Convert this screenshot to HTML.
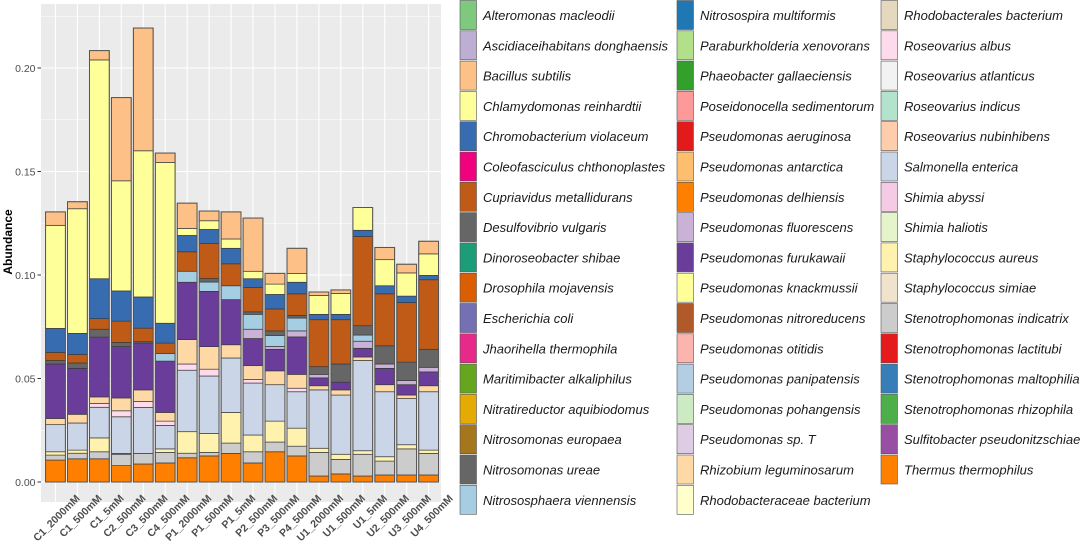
<!DOCTYPE html>
<html><head><meta charset="utf-8">
<style>
html,body{margin:0;padding:0;background:#fff;}
svg{display:block;font-family:"Liberation Sans",Arial,sans-serif;}
</style></head>
<body>
<svg id="chart" width="1080" height="545" viewBox="0 0 1080 545" xmlns="http://www.w3.org/2000/svg">
<rect x="41" y="4" width="400" height="498" fill="#ebebeb"/>
<g id="grid"></g>
<g id="bars"></g>
<g id="yaxis"></g>
<g id="xaxis"></g>
<text x="12" y="242" transform="rotate(-90 12 242)" text-anchor="middle" font-size="12" font-weight="bold" fill="#000">Abundance</text>
<g id="legend"></g>
</svg>
<script>
const categories = ["C1_2000mM","C1_500mM","C1_5mM","C2_500mM","C3_500mM","C4_500mM","P1_2000mM","P1_500mM","P1_5mM","P2_500mM","P3_500mM","P4_500mM","U1_2000mM","U1_500mM","U1_5mM","U2_500mM","U3_500mM","U4_500mM"];
const yTicks = [0, 0.05, 0.10, 0.15, 0.20];
const yTickLabels = ["0.00","0.05","0.10","0.15","0.20"];
// stacked bottom-up
const stackSpecies = ["Thermus thermophilus","Stenotrophomonas indicatrix","Staphylococcus aureus","Salmonella enterica","Roseovarius albus","Rhizobium leguminosarum","Pseudomonas furukawaii","Pseudomonas fluorescens","Nitrososphaera viennensis","Nitrosomonas ureae","Desulfovibrio vulgaris","Cupriavidus metallidurans","Chromobacterium violaceum","Chlamydomonas reinhardtii","Bacillus subtilis"];
const thermus   = [.0106,.0112,.0112,.0079,.0087,.0092,.0117,.0126,.0138,.0092,.0146,.0126,.0029,.0039,.0029,.0034,.0034,.0034];
const indicatrix= [.0024,.0027,.0034,.0055,.0051,.0051,.0022,.0017,.005,.0054,.0047,.0047,.0114,.007,.0105,.0067,.0126,.0104];
const aureus    = [.0016,.0015,.0067,.0004,0,.0017,.0104,.0092,.0148,.0081,.0101,.0087,.002,.0025,.0017,.0021,.002,.0016];
const salmonella= [.0131,.0131,.0148,.0177,.0222,.0113,.0297,.0277,.0263,.0251,.0176,.0176,.0282,.0286,.0436,.0314,.0223,.0282];
const albus     = [0,0,.0019,.0029,.0029,.0021,.003,.0033,0,.0017,0,.0017,0,0,0,0,0,0];
const rhizobium = [.003,.0042,.0031,.0062,.0056,.0042,.0118,.0109,.0064,.0067,.0067,.0067,.002,.0025,.0017,.0034,.0017,.0029];
const furukawaii= [.0263,.0222,.0289,.0248,.0226,.0248,.0277,.0267,.0218,.0131,.0104,.0181,.0038,.0037,.0042,.0079,.005,.0067];
const fluorescens=[0,0,0,0,0,0,0,0,0,.0045,.0014,.0029,.0017,0,.0034,.0021,.002,.0022];
const viennensis= [0,0,0,0,0,.0036,.0053,.0045,.0067,.0072,.0053,.0062,0,0,.003,0,0,0];
const ureae     = [0,0,0,0,0,0,0,0,0,0,0,0,.0037,.0088,.0045,.0088,.0089,.0087];
const desulfo   = [.0017,.0026,.0038,.002,.0007,0,0,.0017,0,.0012,.0022,.0013,0,0,0,0,0,0];
const cupriavidus=[.0039,.0041,.0051,.0103,.0065,.0051,.0094,.017,.0106,.0118,.0106,.0104,.0227,.0214,.0431,.0251,.0288,.0336];
const chromo    = [.0116,.0102,.0193,.0146,.0151,.0096,.0079,.0067,.0075,.0042,.007,.0056,.0026,.0026,.003,.0039,.0031,.0021];
const chlamy    = [.0498,.0602,.1057,.0532,.0706,.0777,.0034,.0042,.0045,.0036,.005,.0042,.0091,.0101,.011,.0126,.0112,.0104];
const bacillus  = [.0065,.0034,.0045,.0402,.0593,.0045,.0122,.0047,.0131,.0257,.0052,.0122,.0017,.0017,0,.0059,.0042,.0061];
const stackSeries = [thermus,indicatrix,aureus,salmonella,albus,rhizobium,furukawaii,fluorescens,viennensis,ureae,desulfo,cupriavidus,chromo,chlamy,bacillus];

const legendNames = ["Alteromonas macleodii","Ascidiaceihabitans donghaensis","Bacillus subtilis","Chlamydomonas reinhardtii","Chromobacterium violaceum","Coleofasciculus chthonoplastes","Cupriavidus metallidurans","Desulfovibrio vulgaris","Dinoroseobacter shibae","Drosophila mojavensis","Escherichia coli","Jhaorihella thermophila","Maritimibacter alkaliphilus","Nitratireductor aquibiodomus","Nitrosomonas europaea","Nitrosomonas ureae","Nitrososphaera viennensis",
"Nitrosospira multiformis","Paraburkholderia xenovorans","Phaeobacter gallaeciensis","Poseidonocella sedimentorum","Pseudomonas aeruginosa","Pseudomonas antarctica","Pseudomonas delhiensis","Pseudomonas fluorescens","Pseudomonas furukawaii","Pseudomonas knackmussii","Pseudomonas nitroreducens","Pseudomonas otitidis","Pseudomonas panipatensis","Pseudomonas pohangensis","Pseudomonas sp. T","Rhizobium leguminosarum","Rhodobacteraceae bacterium",
"Rhodobacterales bacterium","Roseovarius albus","Roseovarius atlanticus","Roseovarius indicus","Roseovarius nubinhibens","Salmonella enterica","Shimia abyssi","Shimia haliotis","Staphylococcus aureus","Staphylococcus simiae","Stenotrophomonas indicatrix","Stenotrophomonas lactitubi","Stenotrophomonas maltophilia","Stenotrophomonas rhizophila","Sulfitobacter pseudonitzschiae","Thermus thermophilus"];
const legendColors = ["#7fc97f","#beaed4","#fdc086","#ffff99","#386cb0","#f0027f","#bf5b17","#666666","#1b9e77","#d95f02","#7570b3","#e7298a","#66a61e","#e6ab02","#a6761d","#666666","#a6cee3",
"#1f78b4","#b2df8a","#33a02c","#fb9a99","#e31a1c","#fdbf6f","#ff7f00","#cab2d6","#6a3d9a","#ffff99","#b15928","#fbb4ae","#b3cde3","#ccebc5","#decbe4","#fed9a6","#ffffcc",
"#e5d8bd","#fddaec","#f2f2f2","#b3e2cd","#fdcdac","#cbd5e8","#f4cae4","#e6f5c9","#fff2ae","#f1e2cc","#cccccc","#e41a1c","#377eb8","#4daf4a","#984ea3","#ff7f00"];

const NS="http://www.w3.org/2000/svg";
function mk(tag,attrs,parent){const e=document.createElementNS(NS,tag);for(const k in attrs)e.setAttribute(k,attrs[k]);parent.appendChild(e);return e;}
const panelL=41,panelR=441;
function y(v){return 482-v*2070;}
const bandStart=44.5, band=21.95;
function xc(i){return bandStart+band*(i+0.5);}
const barW=19.8;
const colorOf={};legendNames.forEach((n,i)=>colorOf[n]=legendColors[i]);

const grid=document.getElementById('grid');
for(let i=0;i<yTicks.length;i++){
  const ln=mk('line',{x1:panelL,x2:panelR,y1:y(yTicks[i]),y2:y(yTicks[i]),stroke:'#fff','stroke-width':1.1},grid);
  
  
  if(i<yTicks.length-1){
    const mid=(yTicks[i]+yTicks[i+1])/2;
    const m=mk('line',{x1:panelL,x2:panelR,y1:y(mid),y2:y(mid),stroke:'#fff','stroke-width':0.5},grid);
    
    
  }
}
const m2=mk('line',{x1:panelL,x2:panelR,y1:y(0.225),y2:y(0.225),stroke:'#fff','stroke-width':0.5},grid);


categories.forEach((c,i)=>{
  const ln=mk('line',{x1:xc(i),x2:xc(i),y1:4,y2:502,stroke:'#fff','stroke-width':1.1},grid);
  
  
});

const bars=document.getElementById('bars');
categories.forEach((c,i)=>{
  const g=mk('g',{},bars);
  
  
  let cum=0;
  stackSeries.forEach((s,k)=>{
    const v=s[i]; if(v<=0) return;
    const y0=y(cum), y1=y(cum+v);
    const r=mk('rect',{x:xc(i)-barW/2,y:y1,width:barW,height:y0-y1,fill:colorOf[stackSpecies[k]],stroke:'#3a3a3a','stroke-width':0.7},g);
    
    
    cum+=v;
  });
  const o=mk('rect',{x:xc(i)-barW/2,y:y(cum),width:barW,height:y(0)-y(cum),fill:'none',stroke:'#555','stroke-width':1},g);
  
  
});

const ya=document.getElementById('yaxis');
yTicks.forEach((t,i)=>{
  const tk=mk('line',{x1:37.5,x2:41,y1:y(t),y2:y(t),stroke:'#333','stroke-width':1},ya);
  
  
  const tx=mk('text',{x:35.5,y:y(t)+4,'text-anchor':'end','font-size':10.5,fill:'#4d4d4d'},ya);
  tx.textContent=yTickLabels[i];
  
  
});
const xa=document.getElementById('xaxis');
categories.forEach((c,i)=>{
  const px=xc(i)+25, py=499;
  const tx=mk('text',{x:px,y:py,'text-anchor':'end','font-size':10.5,'font-weight':'bold',fill:'#4d4d4d',transform:`rotate(-45 ${px} ${py})`},xa);
  tx.textContent=c;
  
  
});

const lg=document.getElementById('legend');
const colKeyX=[460,677,881], colTextX=[483,700,904], perCol=17;
legendNames.forEach((n,i)=>{
  const col=Math.floor(i/perCol), row=i%perCol;
  const top=0.5+row*30.3;
  const g=mk('g',{},lg);
  
  
  mk('rect',{x:colKeyX[col],y:top,width:16.5,height:29,fill:legendColors[i],stroke:'#555','stroke-width':0.6},g);
  const t=mk('text',{x:colTextX[col],y:top+19.5,'font-size':13,'font-style':'italic',fill:'#1a1a1a'},g);
  t.textContent=n;
});
</script>
</body></html>
